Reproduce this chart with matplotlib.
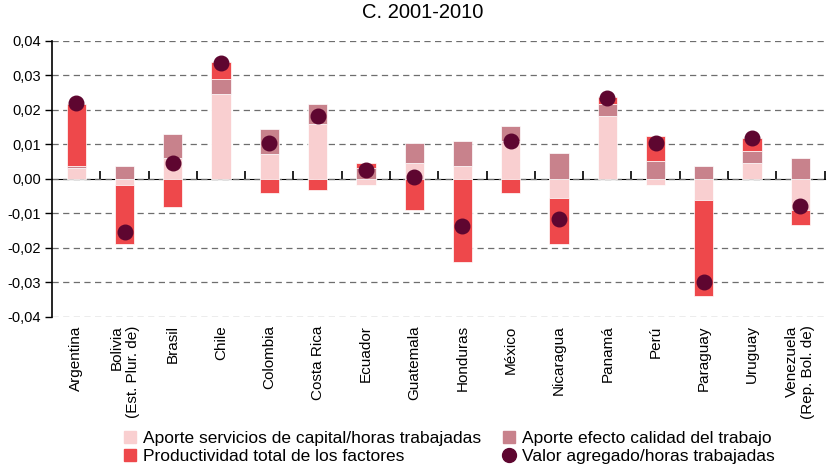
import numpy as np
import matplotlib.pyplot as plt
from matplotlib.ticker import FuncFormatter, FixedLocator
from matplotlib.lines import Line2D
from matplotlib.patches import Patch

plt.rcParams['font.family'] = ['Liberation Sans', 'DejaVu Sans']

# dane
paises = ["Argentina", "Bolivia\n(Est. Plur. de)", "Brasil", "Chile", "Colombia", "Costa Rica",
          "Ecuador", "Guatemala", "Honduras", "México", "Nicaragua", "Panamá", "Perú",
          "Paraguay", "Uruguay", "Venezuela\n(Rep. Bol. de)"]
capital = [0.0031, -0.0018, 0.0060, 0.0246, 0.0073, 0.0159, -0.0018, 0.0045,
           0.0038, 0.0110, -0.0055, 0.0181, -0.0018, -0.0062, 0.0045, -0.0091]
calidad = [0.0007, 0.0038, 0.0070, 0.0043, 0.0071, 0.0058, 0.0031, 0.0057,
           0.0071, 0.0042, 0.0074, 0.0036, 0.0052, 0.0038, 0.0036, 0.0060]
ptf = [0.0179, -0.0172, -0.0083, 0.0049, -0.0040, -0.0033, 0.0014, -0.0091,
       -0.0240, -0.0040, -0.0135, 0.0020, 0.0072, -0.0278, 0.0036, -0.0042]
valor_agregado = [0.0219, -0.0155, 0.0046, 0.0335, 0.0103, 0.0182, 0.0026, 0.0006,
                  -0.0137, 0.0110, -0.0116, 0.0235, 0.0102, -0.0299, 0.0118, -0.0079]

etykiety = ["Aporte servicios de capital/horas trabajadas", "Aporte efecto calidad del trabajo",
            "Productividad total de los factores", "Valor agregado/horas trabajadas"]
kolory = ["#F9CFD0", "#C8828C", "#EE484B", "#5E0630"]

fig = plt.figure(figsize=(8.27, 4.71), dpi=100)
ax = fig.add_axes([0.063, 0.327, 0.934, 0.587])

x = np.arange(len(paises))
szer = 0.4

# stackowanie osobno dodatnich i ujemnych
pos = np.zeros(len(paises))
neg = np.zeros(len(paises))
for seria, kol in zip([capital, calidad, ptf], kolory[:3]):
    v = np.array(seria)
    dol = np.where(v >= 0, pos, neg)
    ax.bar(x, v, szer, bottom=dol, color=kol, edgecolor='white', linewidth=0.5, zorder=3)
    pos = np.where(v >= 0, pos + v, pos)
    neg = np.where(v < 0, neg + v, neg)

ax.scatter(x, valor_agregado, s=110, color=kolory[3], zorder=4)

ax.set_xlim(-0.5, len(paises) - 0.5)
ax.set_ylim(-0.04, 0.04)
ax.set_yticks(np.arange(-0.04, 0.0401, 0.01))
ax.yaxis.set_major_formatter(FuncFormatter(lambda v, p: f"{v:.2f}".replace(".", ",").replace("-0,00", "0,00")))
ax.yaxis.grid(True, linestyle=(0, (5, 3.5)), color='#6e6e6e', linewidth=0.9, zorder=0)
ax.tick_params(axis='y', direction='out', length=5, width=1, labelsize=10.5, pad=3)

for s in ['top', 'right', 'bottom']:
    ax.spines[s].set_visible(False)
ax.spines['left'].set_linewidth(1.2)

ax.set_xticks(x)
ax.set_xticklabels(paises, rotation=90, fontsize=11, va='top', ha='center', multialignment='right')
ax.tick_params(axis='x', length=0, pad=6)

# oś zero z kreskami między krajami
sec = ax.secondary_xaxis(0.5)
sec.xaxis.set_major_locator(FixedLocator(np.arange(0.5, len(paises), 1.0)))
sec.tick_params(axis='x', direction='out', length=6, width=1.2, labelbottom=False)
sec.spines['bottom'].set_linewidth(1.2)
sec.set_xticklabels([])

ax.set_title("C. 2001-2010", fontsize=14.5, pad=16, x=0.48)

uchwyty = [Patch(color=kolory[0]), Patch(color=kolory[2]), Patch(color=kolory[1]),
           Line2D([], [], marker='o', linestyle='', markersize=10, color=kolory[3])]
fig.legend(uchwyty, [etykiety[0], etykiety[2], etykiety[1], etykiety[3]], ncol=2,
           loc='lower center', bbox_to_anchor=(0.543, -0.019), frameon=False, fontsize=12.5,
           handlelength=0.7, handleheight=0.7, handletextpad=0.4, columnspacing=1.25, labelspacing=0.2)

fig.savefig("out.png", dpi=100)
